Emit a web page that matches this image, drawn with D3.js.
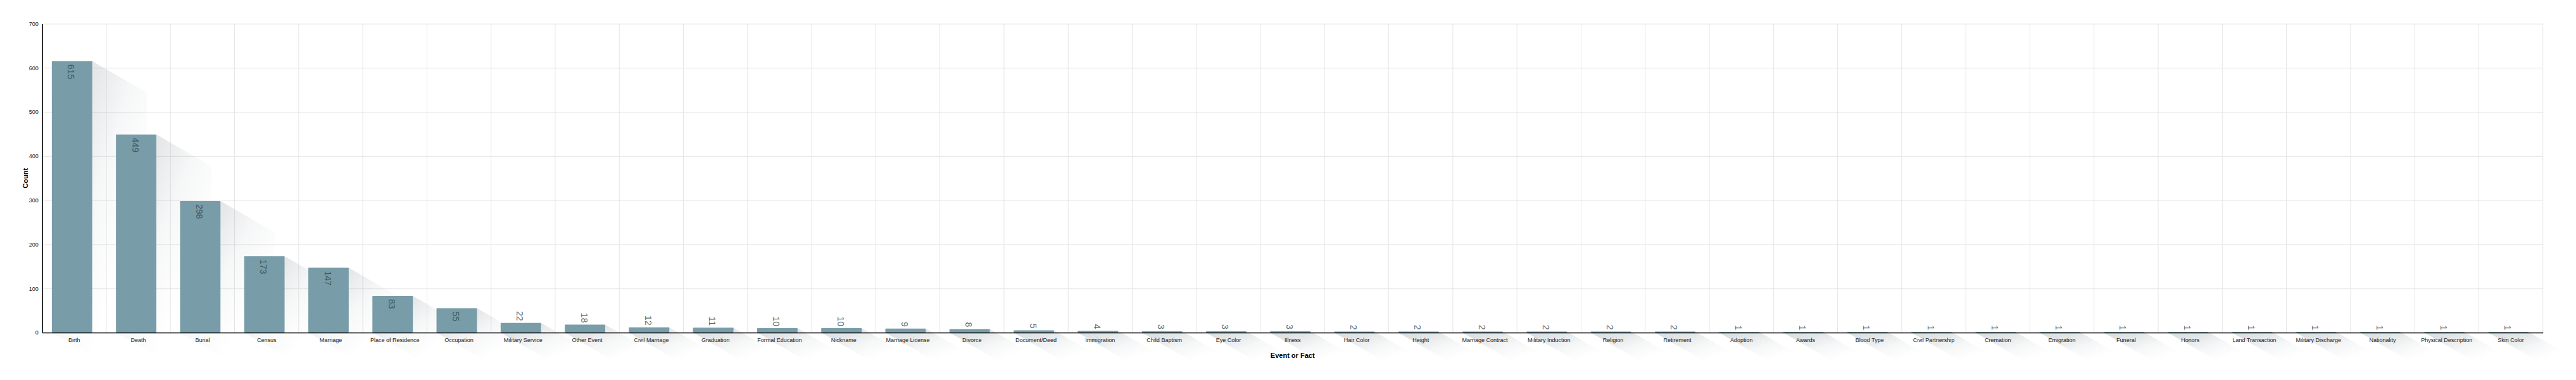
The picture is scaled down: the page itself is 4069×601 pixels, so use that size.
<!DOCTYPE html>
<html>
<head>
<meta charset="utf-8">
<script src="https://cdn.jsdelivr.net/npm/d3@7"></script>
<style>
    body { margin: 0; background: #fff; }
    svg { font-family: "Liberation Sans", Arial, sans-serif; }
    .grid line { stroke: #e6e6e6; stroke-width: 1; }
    .grid path { display: none; }
    .axis path { stroke: #000; stroke-width: 1.5; }
    .axis text { fill: #222; }
</style>
</head>
<body>
<div class="chart"></div>
<script>
// categories and counts
var facts = ["Birth", "Death", "Burial", "Census", "Marriage", "Place of Residence",
    "Occupation", "Military Service", "Other Event", "Civil Marriage", "Graduation",
    "Formal Education", "Nickname", "Marriage License", "Divorce", "Document/Deed",
    "Immigration", "Child Baptism", "Eye Color", "Illness", "Hair Color", "Height",
    "Marriage Contract", "Military Induction", "Religion", "Retirement", "Adoption",
    "Awards", "Blood Type", "Civil Partnership", "Cremation", "Emigration", "Funeral",
    "Honors", "Land Transaction", "Military Discharge", "Nationality",
    "Physical Description", "Skin Color"];
var counts = [615, 449, 298, 173, 147, 83, 55, 22, 18, 12, 11, 10, 10, 9, 8, 5, 4,
    3, 3, 3, 2, 2, 2, 2, 2, 2, 1, 1, 1, 1, 1, 1, 1, 1, 1, 1, 1, 1, 1];
var yTicks = [0, 100, 200, 300, 400, 500, 600, 700];

var svgWidth = 4069;
var svgHeight = 601;

var margin = {
    top: 37.5,
    right: 52.3,
    bottom: 75,
    left: 66.7
};

var width = svgWidth - margin.left - margin.right;
var height = svgHeight - margin.top - margin.bottom;

var data = facts.map(function(f, i) {
    return { fact: f, count: counts[i] };
});

var svg = d3.select(".chart")
    .append("svg")
    .attr("width", svgWidth)
    .attr("height", svgHeight);

// long shadow gradient, fades toward bottom right of each shadow
var defs = svg.append("defs");
var grad = defs.append("linearGradient")
    .attr("id", "shadowGrad")
    .attr("x1", 0).attr("y1", 0)
    .attr("x2", 1).attr("y2", 1);
grad.append("stop").attr("offset", 0).attr("stop-color", "#7d8a91").attr("stop-opacity", 0.3);
grad.append("stop").attr("offset", 0.25).attr("stop-color", "#7d8a91").attr("stop-opacity", 0.2);
grad.append("stop").attr("offset", 0.45).attr("stop-color", "#7d8a91").attr("stop-opacity", 0.07);
grad.append("stop").attr("offset", 0.7).attr("stop-color", "#7d8a91").attr("stop-opacity", 0);

var chartGroup = svg.append("g")
    .attr("transform", `translate(${margin.left}, ${margin.top})`);

// scales
var x = d3.scaleBand()
    .domain(facts)
    .range([0, width])
    .padding(0);

var y = d3.scaleLinear()
    .domain([0, 700])
    .range([height, 0]);

var step = x.step();

// grid lines
chartGroup.append("g")
    .attr("class", "grid")
    .call(d3.axisLeft(y).tickValues(yTicks).tickSize(-width).tickFormat(""));

chartGroup.append("g")
    .attr("class", "grid")
    .selectAll("line")
    .data(facts)
    .enter()
    .append("line")
    .attr("x1", d => x(d) + step)
    .attr("x2", d => x(d) + step)
    .attr("y1", 0)
    .attr("y2", height);

// bar geometry helpers
var barX = d => x(d.fact) + step * 0.15;
var barW = step * 0.63;
var shadowLen = 100;
var sdx = shadowLen * Math.cos(Math.PI / 6);
var sdy = shadowLen * Math.sin(Math.PI / 6);

// shadows
chartGroup.append("g")
    .selectAll("polygon")
    .data(data)
    .enter()
    .append("polygon")
    .attr("fill", "url(#shadowGrad)")
    .attr("points", function(d) {
        var x0 = barX(d), x1 = barX(d) + barW;
        var t = y(d.count), b = y(0);
        return [[x0, t], [x1, t], [x1 + sdx, t + sdy], [x1 + sdx, b + sdy], [x0 + sdx, b + sdy], [x0, b]]
            .map(p => p.join(",")).join(" ");
    });

// bars
chartGroup.append("g")
    .selectAll("rect")
    .data(data)
    .enter()
    .append("rect")
    .attr("x", barX)
    .attr("y", d => y(d.count))
    .attr("width", barW)
    .attr("height", d => y(0) - y(d.count))
    .attr("rx", 1)
    .attr("fill", "#789da8");

// axes
var yAxis = chartGroup.append("g")
    .attr("class", "axis")
    .call(d3.axisLeft(y).tickValues(yTicks).tickSize(0).tickPadding(6));
yAxis.selectAll("text").style("font-size", "9px");

var xAxis = chartGroup.append("g")
    .attr("class", "axis")
    .attr("transform", `translate(0, ${height})`)
    .call(d3.axisBottom(x).tickSize(0).tickPadding(8.5));
xAxis.selectAll("text").style("font-size", "9px");

// value labels, rotated
chartGroup.append("g")
    .selectAll("text")
    .data(data)
    .enter()
    .append("text")
    .attr("transform", function(d) {
        var cx = barX(d) + barW / 2 - 1.5;
        var top = y(d.count);
        var len = String(d.count).length * 7.8;
        var inside = (y(0) - top) > len + 12;
        d.inside = inside;
        return `translate(${cx}, ${inside ? top + 5 : top - 3}) rotate(90)`;
    })
    .attr("text-anchor", d => d.inside ? "start" : "end")
    .attr("dy", "0.35em")
    .style("font-size", "14px")
    .style("fill", "#34494f")
    .style("opacity", 0.8)
    .text(d => d.count);

// axis titles
chartGroup.append("text")
    .attr("transform", "rotate(-90)")
    .attr("x", -height / 2)
    .attr("y", -26.7)
    .attr("text-anchor", "middle")
    .attr("dy", "0.35em")
    .style("font-size", "11px")
    .style("font-weight", "bold")
    .text("Count");

chartGroup.append("text")
    .attr("x", width / 2)
    .attr("y", height + 36)
    .attr("text-anchor", "middle")
    .attr("dy", "0.35em")
    .style("font-size", "11px")
    .style("font-weight", "bold")
    .text("Event or Fact");
</script>
</body>
</html>
